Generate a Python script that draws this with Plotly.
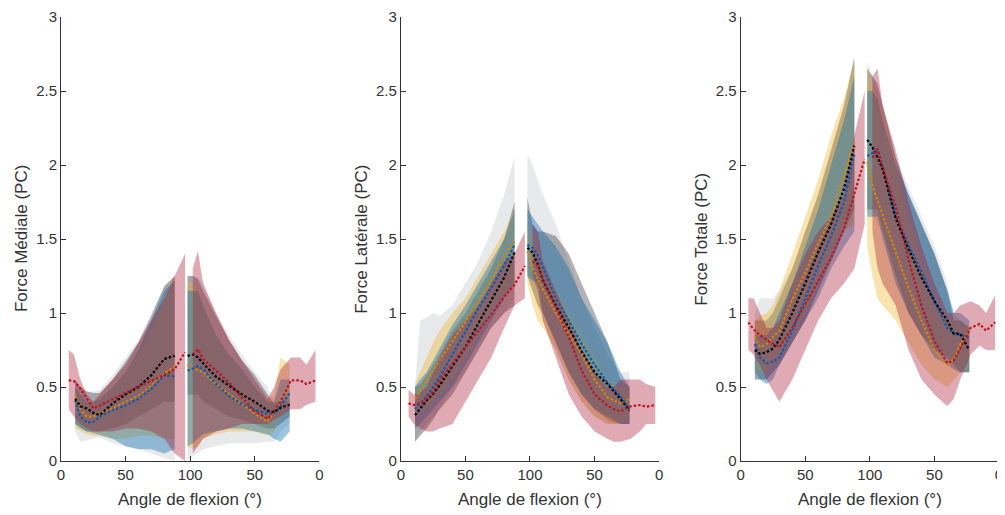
import plotly.graph_objects as go

# ---------------- grids (angle axis 0..200 : 0-100 flexion, 100-200 extension) -------------
XF = [11, 15, 20, 25, 30, 40, 50, 60, 70, 80, 88]
XE = [98, 102, 106, 110, 120, 130, 140, 150, 160, 165, 170, 177]
XRF = [6, 10, 15, 20, 25, 30, 40, 50, 60, 70, 80, 88, 96]
XRE = [102, 106, 110, 120, 130, 140, 150, 160, 165, 170, 178, 185, 190, 197]

TICK_VALS = [0, 50, 100, 150, 200]
TICK_TEXT = ["0", "50", "100", "50", "0"]
Y_TICKS = [0, 0.5, 1, 1.5, 2, 2.5, 3]
Y_TEXT = ["0", "0.5", "1", "1.5", "2", "2.5", "3"]
TITRES_Y = ["Force Médiale (PC)", "Force Latérale (PC)", "Force Totale (PC)"]
TITRE_X = "Angle de flexion (°)"

# ---------------- Force Médiale ----------------
MED_GRIS_BAS = [0.2, 0.13, 0.14, 0.15, 0.16, 0.12, 0.10, 0.08, 0.05, 0.02, 0.0,
                0.0, 0.03, 0.05, 0.08, 0.1, 0.12, 0.12, 0.12, 0.13, 0.13, 0.2, 0.25]
MED_GRIS_HAUT = [0.55, 0.5, 0.47, 0.47, 0.48, 0.58, 0.7, 0.82, 1.0, 1.18, 1.25,
                 1.25, 1.25, 1.24, 1.2, 1.0, 0.85, 0.72, 0.6, 0.5, 0.4, 0.4, 0.45]
MED_NOIR_MOY = [0.42, 0.37, 0.355, 0.325, 0.31, 0.39, 0.45, 0.5, 0.58, 0.69, 0.71,
                0.71, 0.72, 0.70, 0.66, 0.57, 0.51, 0.45, 0.40, 0.34, 0.33, 0.36, 0.38]
MED_NOIR_BAS = [0.25, 0.23, 0.2, 0.2, 0.2, 0.22, 0.25, 0.3, 0.35, 0.4, 0.4,
                0.45, 0.45, 0.45, 0.4, 0.35, 0.3, 0.28, 0.25, 0.22, 0.22, 0.25, 0.3]
MED_NOIR_HAUT = [0.55, 0.5, 0.47, 0.46, 0.46, 0.55, 0.67, 0.8, 0.98, 1.18, 1.25,
                 1.25, 1.25, 1.23, 1.15, 0.98, 0.82, 0.68, 0.58, 0.45, 0.38, 0.42, 0.4]
MED_ORANGE_MOY = [0.445, 0.344, 0.30, 0.30, 0.32, 0.355, 0.40, 0.44, 0.51, 0.59, 0.64,
                  0.65, 0.625, 0.615, 0.6, 0.52, 0.45, 0.385, 0.32, 0.265, 0.33, 0.41, 0.49]
MED_ORANGE_BAS = [0.22, 0.2, 0.18, 0.17, 0.17, 0.15, 0.15, 0.17, 0.17, 0.15, 0.15,
                  0.1, 0.08, 0.1, 0.15, 0.18, 0.2, 0.2, 0.2, 0.17, 0.2, 0.3, 0.35]
MED_ORANGE_HAUT = [0.48, 0.44, 0.4, 0.4, 0.42, 0.5, 0.6, 0.72, 0.9, 1.1, 1.25,
                   1.22, 1.2, 1.15, 1.05, 0.85, 0.72, 0.6, 0.5, 0.4, 0.45, 0.7, 0.65]
MED_BLEU_MOY = [0.41, 0.30, 0.26, 0.265, 0.30, 0.345, 0.375, 0.42, 0.49, 0.58, 0.57,
                0.61, 0.625, 0.64, 0.62, 0.52, 0.44, 0.385, 0.345, 0.32, 0.325, 0.37, 0.46]
MED_BLEU_BAS = [0.25, 0.22, 0.2, 0.19, 0.18, 0.15, 0.1, 0.08, 0.08, 0.05, 0.08,
                0.1, 0.12, 0.15, 0.18, 0.2, 0.22, 0.22, 0.2, 0.18, 0.15, 0.13, 0.2]
MED_BLEU_HAUT = [0.5, 0.45, 0.4, 0.4, 0.42, 0.5, 0.6, 0.75, 0.95, 1.15, 1.22,
                 1.15, 1.15, 1.15, 1.05, 0.85, 0.72, 0.62, 0.5, 0.4, 0.4, 0.55, 0.55]
MED_ROUGE_MOY = [0.545, 0.54, 0.49, 0.42, 0.355, 0.375, 0.415, 0.46, 0.505, 0.54, 0.58, 0.62, 0.735,
                 0.72, 0.755, 0.69, 0.61, 0.53, 0.43, 0.335, 0.285, 0.34, 0.40, 0.545, 0.545, 0.52, 0.545]
MED_ROUGE_BAS = [0.35, 0.3, 0.25, 0.22, 0.2, 0.2, 0.2, 0.22, 0.22, 0.2, 0.15, 0.05, 0.0,
                 0.05, 0.1, 0.15, 0.2, 0.22, 0.25, 0.25, 0.25, 0.28, 0.3, 0.35, 0.35, 0.38, 0.4]
MED_ROUGE_HAUT = [0.75, 0.72, 0.55, 0.45, 0.4, 0.45, 0.55, 0.65, 0.8, 0.95, 1.1, 1.25, 1.4,
                  1.3, 1.42, 1.2, 1.0, 0.82, 0.68, 0.55, 0.42, 0.5, 0.62, 0.7, 0.7, 0.65, 0.75]

# ---------------- Force Latérale ----------------
LAT_GRIS_BAS = [0.13, 0.2, 0.25, 0.3, 0.35, 0.5, 0.6, 0.75, 0.9, 1.0, 1.1,
                1.25, 1.15, 1.05, 0.95, 0.75, 0.55, 0.4, 0.3, 0.25, 0.25, 0.25, 0.25]
LAT_GRIS_HAUT = [0.5, 0.95, 0.97, 1.0, 0.98, 1.05, 1.2, 1.35, 1.55, 1.8, 2.05,
                 2.07, 2.0, 1.9, 1.8, 1.6, 1.35, 1.1, 0.9, 0.72, 0.65, 0.6, 0.6]
LAT_NOIR_MOY = [0.31, 0.355, 0.41, 0.456, 0.51, 0.64, 0.77, 0.93, 1.09, 1.24, 1.41,
                1.44, 1.41, 1.33, 1.22, 1.05, 0.9, 0.74, 0.6, 0.52, 0.47, 0.42, 0.34]
LAT_NOIR_BAS = [0.13, 0.17, 0.22, 0.28, 0.35, 0.45, 0.6, 0.75, 0.9, 1.0, 1.05,
                1.25, 1.15, 1.05, 1.0, 0.8, 0.6, 0.45, 0.35, 0.28, 0.26, 0.25, 0.25]
LAT_NOIR_HAUT = [0.5, 0.52, 0.58, 0.65, 0.72, 0.88, 1.0, 1.15, 1.3, 1.5, 1.75,
                 1.78, 1.6, 1.55, 1.55, 1.52, 1.4, 1.2, 1.0, 0.8, 0.68, 0.55, 0.5]
LAT_ORANGE_MOY = [0.42, 0.48, 0.545, 0.61, 0.68, 0.81, 0.94, 1.08, 1.22, 1.38, 1.48,
                  1.42, 1.31, 1.23, 1.16, 1.0, 0.86, 0.72, 0.55, 0.43, 0.41, 0.39, 0.42]
LAT_ORANGE_BAS = [0.3, 0.32, 0.35, 0.4, 0.45, 0.55, 0.7, 0.85, 1.0, 1.1, 1.2,
                  1.2, 1.05, 0.95, 0.9, 0.75, 0.55, 0.4, 0.3, 0.25, 0.25, 0.25, 0.3]
LAT_ORANGE_HAUT = [0.52, 0.6, 0.7, 0.8, 0.88, 1.0, 1.1, 1.25, 1.4, 1.55, 1.7,
                   1.6, 1.5, 1.4, 1.3, 1.15, 1.0, 0.85, 0.7, 0.55, 0.52, 0.5, 0.5]
LAT_BLEU_MOY = [0.35, 0.39, 0.434, 0.50, 0.568, 0.72, 0.88, 1.03, 1.17, 1.32, 1.46,
                1.46, 1.44, 1.39, 1.31, 1.1, 0.95, 0.79, 0.65, 0.53, 0.48, 0.44, 0.35]
LAT_BLEU_BAS = [0.22, 0.25, 0.3, 0.35, 0.4, 0.5, 0.65, 0.8, 0.95, 1.1, 1.2,
                1.25, 1.22, 1.2, 1.0, 0.8, 0.6, 0.45, 0.35, 0.3, 0.28, 0.25, 0.25]
LAT_BLEU_HAUT = [0.5, 0.55, 0.6, 0.68, 0.75, 0.92, 1.05, 1.2, 1.35, 1.5, 1.7,
                 1.7, 1.65, 1.6, 1.55, 1.45, 1.3, 1.1, 0.95, 0.8, 0.7, 0.6, 0.5]
LAT_ROUGE_MOY = [0.39, 0.378, 0.39, 0.42, 0.467, 0.54, 0.66, 0.77, 0.88, 0.99, 1.11, 1.19, 1.317,
                 1.35, 1.32, 1.23, 1.04, 0.84, 0.61, 0.45, 0.375, 0.35, 0.335, 0.37, 0.378, 0.367, 0.378]
LAT_ROUGE_BAS = [0.3, 0.25, 0.22, 0.2, 0.2, 0.22, 0.25, 0.4, 0.55, 0.7, 0.9, 1.05, 1.1,
                 1.25, 1.15, 0.95, 0.7, 0.45, 0.3, 0.2, 0.15, 0.13, 0.13, 0.15, 0.2, 0.25, 0.25]
LAT_ROUGE_HAUT = [0.48, 0.45, 0.46, 0.5, 0.6, 0.7, 0.85, 0.95, 1.05, 1.2, 1.35, 1.4, 1.55,
                  1.6, 1.55, 1.35, 1.15, 0.95, 0.75, 0.6, 0.5, 0.5, 0.55, 0.55, 0.55, 0.52, 0.5]

# ---------------- Force Totale ----------------
TOT_GRIS_BAS = [0.55, 0.55, 0.55, 0.6, 0.65, 0.8, 0.95, 1.15, 1.35, 1.55, 1.7,
                1.7, 1.7, 1.6, 1.55, 1.25, 1.0, 0.85, 0.75, 0.7, 0.65, 0.6, 0.6]
TOT_GRIS_HAUT = [1.0, 1.1, 1.1, 1.1, 1.15, 1.3, 1.55, 1.8, 2.1, 2.4, 2.75,
                 2.7, 2.6, 2.5, 2.4, 2.05, 1.85, 1.65, 1.45, 1.2, 1.0, 0.95, 0.9]
TOT_NOIR_MOY = [0.75, 0.724, 0.735, 0.76, 0.82, 1.0, 1.2, 1.41, 1.6, 1.84, 2.13,
                2.17, 2.12, 2.05, 1.97, 1.64, 1.43, 1.24, 1.08, 0.95, 0.86, 0.86, 0.75]
TOT_NOIR_BAS = [0.55, 0.55, 0.55, 0.6, 0.65, 0.8, 0.95, 1.15, 1.35, 1.55, 1.7,
                1.7, 1.7, 1.7, 1.55, 1.25, 1.0, 0.85, 0.75, 0.7, 0.65, 0.6, 0.6]
TOT_NOIR_HAUT = [0.95, 0.95, 0.95, 1.0, 1.1, 1.3, 1.55, 1.8, 2.1, 2.4, 2.72,
                 2.65, 2.6, 2.55, 2.4, 2.05, 1.8, 1.6, 1.4, 1.15, 0.95, 0.95, 0.9]
TOT_ORANGE_MOY = [0.84, 0.77, 0.79, 0.84, 0.88, 1.09, 1.27, 1.47, 1.65, 1.93, 2.15,
                  2.02, 1.86, 1.76, 1.66, 1.42, 1.17, 0.95, 0.75, 0.65, 0.69, 0.79, 0.88]
TOT_ORANGE_BAS = [0.6, 0.6, 0.6, 0.65, 0.7, 0.85, 1.0, 1.2, 1.4, 1.55, 1.6,
                  1.45, 1.25, 1.1, 1.05, 0.95, 0.8, 0.65, 0.55, 0.5, 0.55, 0.6, 0.6]
TOT_ORANGE_HAUT = [0.95, 0.98, 1.0, 1.05, 1.15, 1.4, 1.65, 1.9, 2.2, 2.45, 2.7,
                   2.65, 2.55, 2.45, 2.35, 2.0, 1.65, 1.35, 1.1, 0.95, 0.95, 0.95, 0.9]
TOT_BLEU_MOY = [0.79, 0.7, 0.66, 0.67, 0.7, 0.88, 1.1, 1.32, 1.52, 1.75, 2.07,
                2.06, 2.08, 2.1, 1.99, 1.66, 1.46, 1.28, 1.08, 0.9, 0.86, 0.85, 0.836]
TOT_BLEU_BAS = [0.6, 0.55, 0.52, 0.55, 0.65, 0.8, 0.95, 1.1, 1.3, 1.45, 1.55,
                1.65, 1.65, 1.65, 1.5, 1.2, 1.0, 0.85, 0.7, 0.65, 0.62, 0.6, 0.6]
TOT_BLEU_HAUT = [0.85, 0.85, 0.85, 0.9, 1.0, 1.2, 1.45, 1.7, 2.0, 2.3, 2.6,
                 2.5, 2.5, 2.45, 2.3, 2.0, 1.8, 1.6, 1.4, 1.15, 1.0, 1.0, 0.95]
TOT_ROUGE_MOY = [0.937, 0.89, 0.85, 0.82, 0.79, 0.77, 0.9, 1.06, 1.22, 1.37, 1.57, 1.8, 2.04,
                 2.05, 2.11, 1.98, 1.72, 1.36, 1.05, 0.81, 0.66, 0.68, 0.76, 0.9, 0.926, 0.88, 0.937]
TOT_ROUGE_BAS = [0.75, 0.72, 0.65, 0.55, 0.48, 0.4, 0.55, 0.75, 0.95, 1.1, 1.2, 1.3, 1.6,
                 1.55, 1.3, 1.2, 1.05, 0.75, 0.55, 0.45, 0.37, 0.42, 0.55, 0.72, 0.78, 0.75, 0.75]
TOT_ROUGE_HAUT = [1.1, 1.1, 1.0, 0.9, 0.9, 0.95, 1.2, 1.4, 1.55, 1.65, 1.8, 2.2, 2.5,
                  2.6, 2.65, 2.4, 2.1, 1.75, 1.45, 1.2, 1.0, 1.0, 1.05, 1.08, 1.05, 1.0, 1.12]

# ---------------- styles ----------------
FILL = {
    "gris": "rgba(150,155,160,0.22)",
    "noir": "rgba(55,55,62,0.38)",
    "orange": "rgba(237,177,32,0.36)",
    "bleu": "rgba(0,105,175,0.38)",
    "rouge": "rgba(165,20,45,0.36)",
}
LINE = {"noir": "#000000", "orange": "#D4860B", "bleu": "#0A5CB0", "rouge": "#BE1420"}

PANELS = [
    {"gris": (MED_GRIS_BAS, MED_GRIS_HAUT, None),
     "noir": (MED_NOIR_BAS, MED_NOIR_HAUT, MED_NOIR_MOY),
     "orange": (MED_ORANGE_BAS, MED_ORANGE_HAUT, MED_ORANGE_MOY),
     "bleu": (MED_BLEU_BAS, MED_BLEU_HAUT, MED_BLEU_MOY),
     "rouge": (MED_ROUGE_BAS, MED_ROUGE_HAUT, MED_ROUGE_MOY)},
    {"gris": (LAT_GRIS_BAS, LAT_GRIS_HAUT, None),
     "noir": (LAT_NOIR_BAS, LAT_NOIR_HAUT, LAT_NOIR_MOY),
     "orange": (LAT_ORANGE_BAS, LAT_ORANGE_HAUT, LAT_ORANGE_MOY),
     "bleu": (LAT_BLEU_BAS, LAT_BLEU_HAUT, LAT_BLEU_MOY),
     "rouge": (LAT_ROUGE_BAS, LAT_ROUGE_HAUT, LAT_ROUGE_MOY)},
    {"gris": (TOT_GRIS_BAS, TOT_GRIS_HAUT, None),
     "noir": (TOT_NOIR_BAS, TOT_NOIR_HAUT, TOT_NOIR_MOY),
     "orange": (TOT_ORANGE_BAS, TOT_ORANGE_HAUT, TOT_ORANGE_MOY),
     "bleu": (TOT_BLEU_BAS, TOT_BLEU_HAUT, TOT_BLEU_MOY),
     "rouge": (TOT_ROUGE_BAS, TOT_ROUGE_HAUT, TOT_ROUGE_MOY)},
]


def split(values, nf):
    return values[:nf], values[nf:]


def band_poly(xf, xe, lo, hi):
    nf = len(xf)
    lof, loe = split(lo, nf)
    hif, hie = split(hi, nf)
    xs = xf + xf[::-1] + [None] + xe + xe[::-1]
    ys = hif + lof[::-1] + [None] + hie + loe[::-1]
    return xs, ys


# the page body has an 8 px margin: positions below are in figure pixels (page - 8)
W, H = 1005, 515
OFF = 8
ML, MT = 61 - OFF, 17 - OFF
MR = W - (999.5 - OFF)
MB = H - (461.3 - OFF)
PW = W - ML - MR
PH = H - MT - MB
PANEL_PX = 258.5
starts = [61 - OFF, 401 - OFF, 741 - OFF]
domains = [[max(0.0, (s - ML) / PW), min(1.0, (s - ML + PANEL_PX) / PW)] for s in starts]

fig = go.Figure()
FONT = "Liberation Sans, Arial, Helvetica, sans-serif"
AX_COL = "#333333"

for i, panel in enumerate(PANELS):
    xa = "x" if i == 0 else f"x{i+1}"
    ya = "y" if i == 0 else f"y{i+1}"
    for key in ["gris", "noir", "orange", "bleu", "rouge"]:
        lo, hi, _ = panel[key]
        if key == "rouge":
            xs, ys = band_poly(XRF, XRE, lo, hi)
        else:
            xs, ys = band_poly(XF, XE, lo, hi)
        fig.add_trace(go.Scatter(x=xs, y=ys, fill="toself", fillcolor=FILL[key],
                                 mode="lines", line=dict(width=0, color="rgba(0,0,0,0)"),
                                 hoverinfo="skip", showlegend=False, xaxis=xa, yaxis=ya))
    for key in ["orange", "bleu", "noir", "rouge"]:
        lo, hi, moy = panel[key]
        if key == "rouge":
            xf, xe = XRF, XRE
        else:
            xf, xe = XF, XE
        mf, me = split(moy, len(xf))
        fig.add_trace(go.Scatter(x=xf + [None] + xe, y=mf + [None] + me, mode="lines",
                                 line=dict(color=LINE[key], width=2.2, dash="2.5px,2px"),
                                 showlegend=False, xaxis=xa, yaxis=ya))

layout = dict(
    width=W, height=H,
    margin=dict(l=ML, r=MR, t=MT, b=MB, autoexpand=False),
    paper_bgcolor="white", plot_bgcolor="white",
    showlegend=False,
    font=dict(family=FONT, size=15, color=AX_COL),
)
annotations = []
for i in range(3):
    sx = "" if i == 0 else str(i + 1)
    layout["xaxis" + sx] = dict(
        domain=domains[i], range=[0, 200], tickvals=TICK_VALS, ticktext=TICK_TEXT,
        showline=True, linecolor=AX_COL, linewidth=1, ticks="inside", ticklen=5,
        tickcolor=AX_COL, showgrid=False, zeroline=False, anchor="y" + sx,
        tickfont=dict(size=15, color=AX_COL, family=FONT), fixedrange=True,
        ticklabeloverflow="allow",
    )
    layout["yaxis" + sx] = dict(
        domain=[0, 1], range=[0, 3], tickvals=Y_TICKS, ticktext=Y_TEXT,
        showline=True, linecolor=AX_COL, linewidth=1, ticks="inside", ticklen=5,
        tickcolor=AX_COL, showgrid=False, zeroline=False, anchor="x" + sx,
        tickfont=dict(size=15, color=AX_COL, family=FONT), fixedrange=True,
        ticklabeloverflow="allow",
    )
    cx = starts[i] + PANEL_PX / 2
    annotations.append(dict(text=TITRE_X, x=(cx - ML) / PW, y=(H - (500 - OFF) - MB) / PH,
                            xref="paper", yref="paper", showarrow=False,
                            xanchor="center", yanchor="middle",
                            font=dict(size=17, color=AX_COL, family=FONT)))
    annotations.append(dict(text=TITRES_Y[i], x=(starts[i] - 40 - ML) / PW, y=0.5,
                            xref="paper", yref="paper", showarrow=False, textangle=-90,
                            xanchor="center", yanchor="middle",
                            font=dict(size=17, color=AX_COL, family=FONT)))
layout["annotations"] = annotations
fig.update_layout(**layout)
fig.write_html("out.html")
